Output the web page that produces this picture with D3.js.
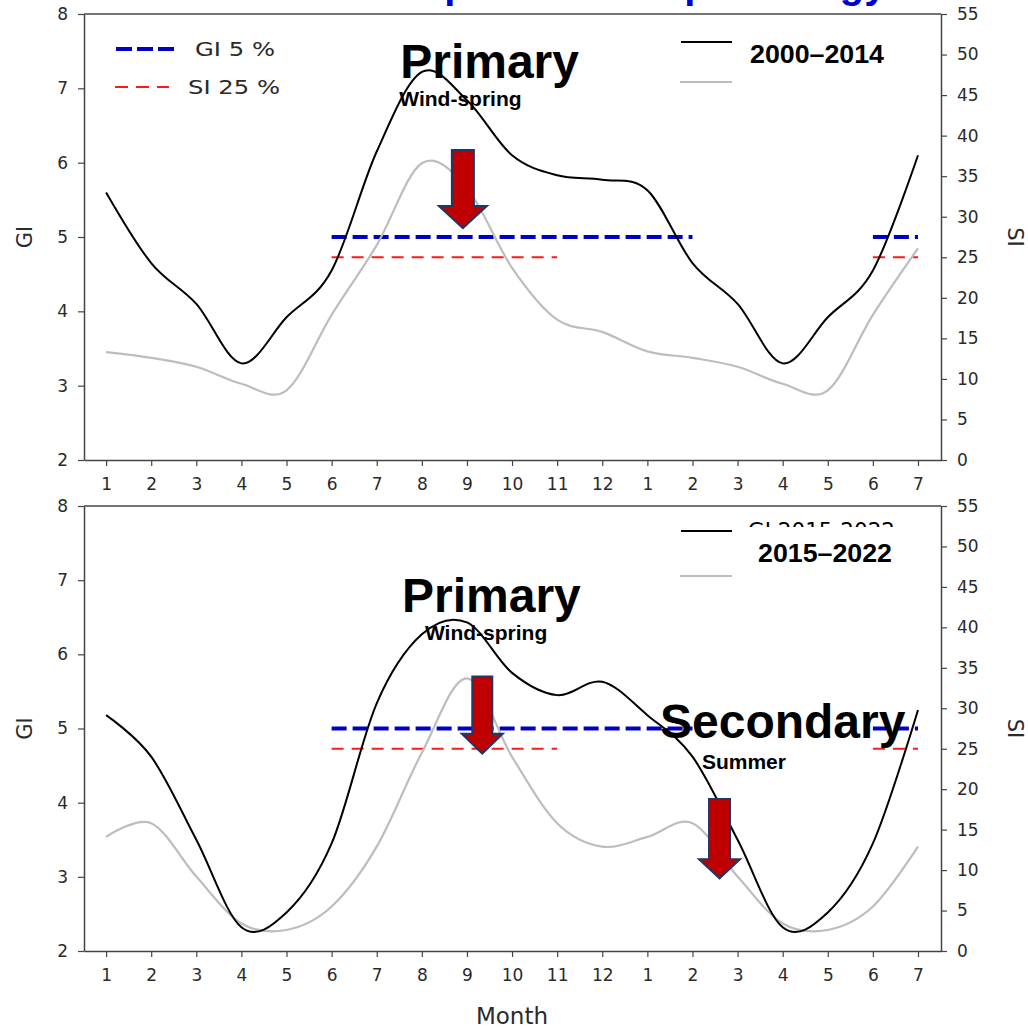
<!DOCTYPE html>
<html>
<head>
<meta charset="utf-8">
<script src="https://cdn.jsdelivr.net/npm/d3@7"></script>
<style>
  html, body { margin: 0; padding: 0; background: #fff; }
  svg { display: block; }
</style>
</head>
<body>
<svg id="chart" width="1028" height="1028"></svg>
<script>
// Month sequence on the shared x axis (Jan of one year through Jul of the next)
const monthLabels = ["1","2","3","4","5","6","7","8","9","10","11","12","1","2","3","4","5","6","7"];

// GI (left axis) and SI (right axis) monthly climatologies
const giEarly = [5.60, 4.65, 4.10, 3.30, 3.92, 4.55, 6.15, 7.22, 6.84, 6.10, 5.83, 5.77, 5.63, 4.65, 4.10, 3.30, 3.92, 4.55, 6.10];
const siEarly = [13.3, 12.6, 11.5, 9.4, 8.6, 17.9, 26.5, 36.6, 33.5, 23.7, 17.3, 15.8, 13.4, 12.6, 11.5, 9.4, 8.6, 17.9, 26.1];
const giLate  = [5.18, 4.62, 3.50, 2.32, 2.52, 3.45, 5.34, 6.27, 6.43, 5.75, 5.45, 5.63, 5.18, 4.62, 3.50, 2.32, 2.52, 3.45, 5.25];
const siLate  = [14.1, 15.8, 9.2, 3.4, 2.6, 5.5, 12.9, 24.5, 33.7, 24.0, 15.8, 12.9, 14.1, 15.8, 9.2, 3.4, 2.6, 5.5, 12.9];

// Thresholds and the month spans where they are drawn
const giThreshold = 5;
const siThreshold = 25;
const giThresholdSpans = [[5, 13], [17, 18]];
const siThresholdSpans = [[5, 10], [17, 18]];

const periods = ["2000–2014", "2015–2022"];
const hiddenLegendText = ["", "GI 2015-2022"];

// Annotations (x in month index, y in GI units)
const arrowsByPanel = [
  [{ x: 7.91, top: 6.17, tip: 5.12, shaft: 11, head: 24, headLen: 22 }],
  [{ x: 8.34, top: 5.70, tip: 4.66, shaft: 10, head: 20.5, headLen: 20 },
   { x: 13.6, top: 4.05, tip: 2.98, shaft: 10.5, head: 20.5, headLen: 19 }]
];
const labelsByPanel = [
  [{ text: "Primary", x: 6.52, y: 7.14, size: 48 },
   { text: "Wind-spring", x: 6.50, y: 6.76, size: 21 }],
  [{ text: "Primary", x: 6.56, y: 6.57, size: 48 },
   { text: "Wind-spring", x: 7.07, y: 6.19, size: 21 },
   { text: "Secondary", x: 12.28, y: 4.87, size: 48 },
   { text: "Summer", x: 13.21, y: 4.45, size: 21 }]
];

const panels = [
  { top: 14,  bottom: 460, gi: giEarly, si: siEarly },
  { top: 506, bottom: 951, gi: giLate,  si: siLate }
];

const svg = d3.select("#chart");
svg.append("rect").attr("width", 1028).attr("height", 1028).attr("fill", "#fff");

const plotLeft = 84, plotRight = 941;
const tickFont = "'DejaVu Sans', Verdana, sans-serif";
const boldFont = "'Liberation Sans', Arial, sans-serif";
const axisColor = "#444";

const x = d3.scaleLinear().domain([-0.49, 18.51]).range([plotLeft, plotRight]);

// Heading that runs off the top edge
svg.append("text")
  .attr("x", 365).attr("y", -2.5)
  .attr("font-family", boldFont).attr("font-weight", "bold")
  .attr("font-size", 40).attr("fill", "#0000cc")
  .text("Temporal bloom phenology");

panels.forEach((p, pi) => {
  const yGI = d3.scaleLinear().domain([2, 8]).range([p.bottom, p.top]);
  const ySI = d3.scaleLinear().domain([0, 55]).range([p.bottom, p.top]);
  const g = svg.append("g");

  // Frame top edge
  g.append("line")
    .attr("x1", plotLeft).attr("x2", plotRight)
    .attr("y1", p.top).attr("y2", p.top)
    .attr("stroke", axisColor).attr("stroke-width", 1.5);

  // Axes
  const styleAxis = sel => {
    sel.selectAll("path.domain").attr("stroke", axisColor).attr("stroke-width", 1.5);
    sel.selectAll(".tick line").attr("stroke", axisColor).attr("stroke-width", 1.2);
    sel.selectAll(".tick text").attr("fill", "#2a2a2a")
      .attr("font-family", tickFont).attr("font-size", 17);
  };
  g.append("g").attr("transform", `translate(0,${p.bottom})`)
    .call(d3.axisBottom(x).tickValues(d3.range(monthLabels.length))
      .tickFormat(i => monthLabels[i]).tickSize(6).tickSizeOuter(0).tickPadding(12))
    .call(styleAxis);
  g.append("g").attr("transform", `translate(${plotLeft},0)`)
    .call(d3.axisLeft(yGI).tickValues(d3.range(2, 9)).tickFormat(d3.format("d"))
      .tickSize(6).tickSizeOuter(0).tickPadding(10))
    .call(styleAxis);
  g.append("g").attr("transform", `translate(${plotRight},0)`)
    .call(d3.axisRight(ySI).tickValues(d3.range(0, 56, 5)).tickFormat(d3.format("d"))
      .tickSize(6).tickSizeOuter(0).tickPadding(10))
    .call(styleAxis);

  const midY = (p.top + p.bottom) / 2;
  g.append("text")
    .attr("transform", `translate(32,${midY}) rotate(-90)`)
    .attr("text-anchor", "middle")
    .attr("font-family", tickFont).attr("font-size", 21).attr("fill", "#2a2a2a")
    .text("GI");
  g.append("text")
    .attr("transform", `translate(1008,${midY}) rotate(90)`)
    .attr("text-anchor", "middle")
    .attr("font-family", tickFont).attr("font-size", 21).attr("fill", "#2a2a2a")
    .text("SI");

  // Threshold segments
  giThresholdSpans.forEach(([a, b]) => {
    g.append("line")
      .attr("x1", x(a)).attr("x2", x(b))
      .attr("y1", yGI(giThreshold)).attr("y2", yGI(giThreshold))
      .attr("stroke", "#0000c0").attr("stroke-width", 4.2)
      .attr("stroke-dasharray", "15,6");
  });
  siThresholdSpans.forEach(([a, b]) => {
    g.append("line")
      .attr("x1", x(a)).attr("x2", x(b))
      .attr("y1", ySI(siThreshold)).attr("y2", ySI(siThreshold))
      .attr("stroke", "#ff1a1a").attr("stroke-width", 2)
      .attr("stroke-dasharray", "12,8");
  });

  // Series curves
  const curve = d3.curveCardinal.tension(0);
  g.append("path").datum(p.si)
    .attr("fill", "none").attr("stroke", "#bdbdbd").attr("stroke-width", 2.2)
    .attr("d", d3.line().x((d, i) => x(i)).y(d => ySI(d)).curve(curve));
  g.append("path").datum(p.gi)
    .attr("fill", "none").attr("stroke", "#000").attr("stroke-width", 2)
    .attr("d", d3.line().x((d, i) => x(i)).y(d => yGI(d)).curve(curve));

  // Text annotations
  labelsByPanel[pi].forEach(l => {
    g.append("text")
      .attr("x", x(l.x)).attr("y", yGI(l.y))
      .attr("font-family", boldFont).attr("font-weight", "bold")
      .attr("font-size", l.size).attr("fill", "#000")
      .text(l.text);
  });

  // Downward arrows
  arrowsByPanel[pi].forEach(a => {
    const cx = x(a.x), yt = yGI(a.top), ytip = yGI(a.tip), yb = ytip - a.headLen;
    const pts = [
      [cx - a.shaft, yt], [cx + a.shaft, yt], [cx + a.shaft, yb], [cx + a.head, yb],
      [cx, ytip], [cx - a.head, yb], [cx - a.shaft, yb]
    ];
    g.append("path")
      .attr("d", "M" + pts.map(q => q.join(",")).join("L") + "Z")
      .attr("fill", "#c00000").attr("stroke", "#1f3864")
      .attr("stroke-width", 2).attr("stroke-linejoin", "miter");
  });

  // Series legend (upper right)
  g.append("line")
    .attr("x1", 681).attr("x2", 732).attr("y1", p.top + 28 - pi * 3).attr("y2", p.top + 28 - pi * 3)
    .attr("stroke", "#000").attr("stroke-width", 2);
  g.append("line")
    .attr("x1", 680).attr("x2", 732).attr("y1", p.top + 68 + pi * 2).attr("y2", p.top + 68 + pi * 2)
    .attr("stroke", "#bdbdbd").attr("stroke-width", 2.2);
  if (hiddenLegendText[pi]) {
    // legend entry mostly covered by the period label box; only its top edge shows
    const clipId = "legendClip" + pi;
    svg.append("defs").append("clipPath").attr("id", clipId)
      .append("rect").attr("x", 740).attr("y", p.top + 12).attr("width", 175).attr("height", 9);
    g.append("text")
      .attr("clip-path", `url(#${clipId})`)
      .attr("x", 748).attr("y", p.top + 32)
      .attr("font-family", tickFont).attr("font-size", 21.5).attr("fill", "#000")
      .text(hiddenLegendText[pi]);
  }
  g.append("text")
    .attr("x", pi === 0 ? 750 : 758).attr("y", pi === 0 ? p.top + 49 : p.top + 56)
    .attr("font-family", boldFont).attr("font-weight", "bold")
    .attr("font-size", 25).attr("fill", "#000")
    .attr("textLength", 134).attr("lengthAdjust", "spacingAndGlyphs")
    .text(periods[pi]);
});

// Threshold legend (upper left of the first panel)
const lg = svg.append("g");
lg.append("line").attr("x1", 116).attr("x2", 174).attr("y1", 49).attr("y2", 49)
  .attr("stroke", "#0000c0").attr("stroke-width", 4.2).attr("stroke-dasharray", "16,5");
lg.append("line").attr("x1", 115).attr("x2", 169).attr("y1", 87).attr("y2", 87)
  .attr("stroke", "#ff1a1a").attr("stroke-width", 2).attr("stroke-dasharray", "13,8");
lg.append("text").attr("x", 195).attr("y", 56)
  .attr("font-family", tickFont).attr("font-size", 19).attr("fill", "#2a2a2a")
  .attr("textLength", 80).attr("lengthAdjust", "spacingAndGlyphs")
  .text("GI 5 %");
lg.append("text").attr("x", 188).attr("y", 94)
  .attr("font-family", tickFont).attr("font-size", 19).attr("fill", "#2a2a2a")
  .attr("textLength", 92).attr("lengthAdjust", "spacingAndGlyphs")
  .text("SI 25 %");

// Shared x-axis title
svg.append("text")
  .attr("x", 512).attr("y", 1024)
  .attr("text-anchor", "middle")
  .attr("font-family", tickFont).attr("font-size", 23).attr("fill", "#2a2a2a")
  .text("Month");
</script>
</body>
</html>
